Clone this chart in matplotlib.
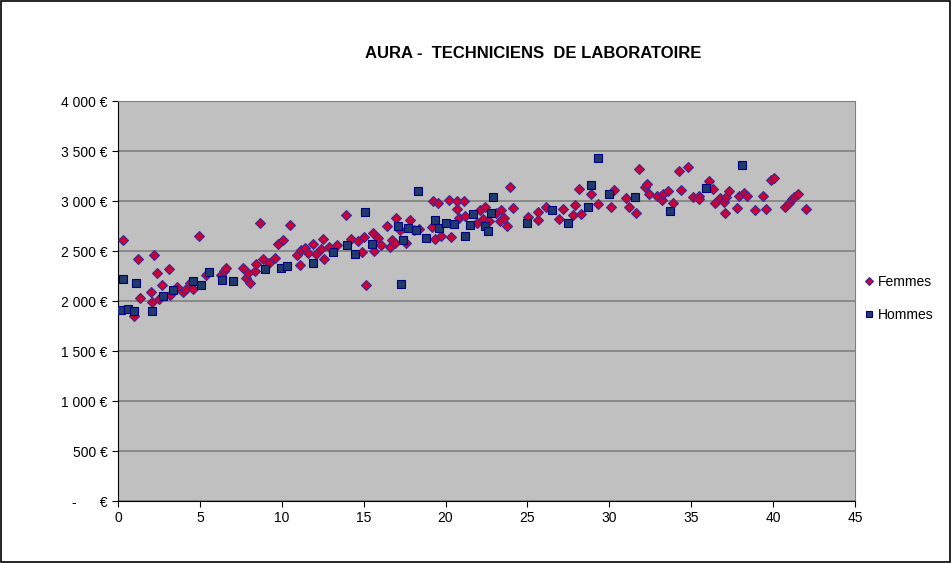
import matplotlib
matplotlib.use("Agg")
import matplotlib.pyplot as plt
from matplotlib.ticker import FuncFormatter, MultipleLocator
from matplotlib.patches import Rectangle

plt.rcParams['font.family'] = ['Liberation Sans', 'DejaVu Sans']

# ancienneté (années) / salaire mensuel (€)
femmes_x = [0.3, 1.0, 1.2, 1.35, 2.0, 2.1, 2.2, 2.35, 2.5, 2.7, 3.1, 3.2, 3.6, 3.95,
            4.15, 4.4, 4.55, 4.95, 5.4, 6.3, 6.5, 6.6, 7.65, 7.8, 7.95, 8.05, 8.35,
            8.45, 8.65, 8.85, 9.2, 9.6, 9.75, 10.1, 10.5, 10.9, 11.1, 11.2, 11.4,
            11.6, 11.9, 12.1, 12.4, 12.5, 12.6, 12.9, 13.35, 13.95, 14.25, 14.65,
            14.9, 15.05, 15.15, 15.6, 15.65, 15.9, 16.05, 16.45, 16.6, 16.7, 16.9,
            17.0, 17.2, 17.6, 17.8, 18.05, 18.4, 19.15, 19.25, 19.35, 19.55, 19.7,
            20.2, 20.35, 20.7, 20.7, 20.85, 21.1, 21.2, 21.9, 22.1, 22.3, 22.4,
            22.65, 23.1, 23.3, 23.4, 23.55, 23.75, 23.95, 24.15, 25.05, 25.65,
            25.65, 26.15, 26.9, 27.2, 27.8, 27.9, 28.15, 28.25, 28.9, 29.3, 30.1,
            30.3, 31.0, 31.2, 31.65, 31.8, 32.2, 32.3, 32.4, 32.9, 33.2, 33.3,
            33.6, 33.9, 34.25, 34.4, 34.8, 35.1, 35.45, 35.5, 36.1, 36.35, 36.45,
            36.75, 37.0, 37.05, 37.15, 37.3, 37.8, 37.95, 38.25, 38.4, 38.9, 39.4,
            39.6, 39.85, 40.05, 40.75, 40.95, 41.15, 41.3, 41.55, 42.0]
femmes_y = [2610, 1850, 2420, 2030, 2090, 1990, 2460, 2280, 2020, 2160, 2320, 2060,
            2140, 2090, 2120, 2180, 2120, 2650, 2260, 2260, 2300, 2330, 2330, 2230,
            2280, 2180, 2300, 2370, 2780, 2420, 2380, 2430, 2570, 2610, 2760, 2460,
            2360, 2510, 2530, 2480, 2570, 2470, 2520, 2620, 2420, 2540, 2560, 2860,
            2620, 2600, 2490, 2640, 2160, 2680, 2500, 2630, 2560, 2750, 2540, 2610,
            2580, 2830, 2710, 2580, 2810, 2710, 2720, 2740, 3000, 2620, 2980, 2650,
            3010, 2640, 3000, 2920, 2830, 3000, 2850, 2780, 2910, 2820, 2940, 2800,
            2880, 2800, 2910, 2830, 2750, 3140, 2930, 2840, 2890, 2810, 2940, 2820,
            2920, 2860, 2960, 3120, 2870, 3070, 2970, 2940, 3110, 3030, 2940, 2880,
            3320, 3140, 3170, 3070, 3050, 3010, 3070, 3100, 2980, 3300, 3110, 3340,
            3040, 3050, 3020, 3200, 3120, 2980, 3030, 2990, 2880, 3040, 3100, 2930,
            3050, 3080, 3050, 2910, 3050, 2920, 3210, 3230, 2940, 2980, 3020, 3040,
            3070, 2920]

hommes_x = [0.15, 0.3, 0.6, 0.95, 1.1, 2.1, 2.75, 3.35, 4.6, 5.05, 5.55, 6.35, 7.0,
            8.95, 9.95, 10.3, 11.9, 13.1, 14.0, 14.5, 15.1, 15.5, 17.1, 17.3, 17.4,
            17.7, 18.2, 18.3, 18.8, 19.35, 19.6, 20.0, 20.5, 21.2, 21.5, 21.7, 22.4,
            22.6, 22.8, 22.9, 25.0, 26.5, 27.5, 28.7, 28.9, 29.3, 30.0, 31.6, 33.7,
            35.9, 38.1]
hommes_y = [1910, 2220, 1925, 1900, 2180, 1900, 2050, 2110, 2200, 2160, 2290, 2210,
            2200, 2320, 2330, 2350, 2380, 2490, 2560, 2470, 2890, 2570, 2750, 2170,
            2610, 2730, 2710, 3100, 2630, 2810, 2730, 2780, 2770, 2650, 2760, 2870,
            2750, 2700, 2880, 3040, 2780, 2910, 2780, 2940, 3160, 3430, 3070, 3040,
            2900, 3130, 3360]


def euros(v, pos):
    if v == 0:
        return "-      €"
    return "{:,.0f} €".format(v).replace(",", " ")


fig = plt.figure(figsize=(9.52, 5.63), dpi=100)
ax = fig.add_axes([0.124, 0.110, 0.774, 0.7106])
ax.set_facecolor('#C0C0C0')

ax.plot(femmes_x, femmes_y, 'D', ms=5, mfc='#CC0033', mec='#3B2A96', mew=0.8,
        label='Femmes', zorder=3)
ax.plot(hommes_x, hommes_y, 's', ms=6.2, mfc='#1F3A6B', mec='#000080', mew=0.8,
        label='Hommes', zorder=4)

ax.set_xlim(0, 45)
ax.set_ylim(0, 4000)
ax.xaxis.set_major_locator(MultipleLocator(5))
ax.yaxis.set_major_locator(MultipleLocator(500))
ax.yaxis.set_major_formatter(FuncFormatter(euros))
ax.grid(axis='y', color='#808080', lw=1.2)
ax.set_axisbelow(True)

for s in ('top', 'right'):
    ax.spines[s].set_color('#808080')
for s in ('left', 'bottom'):
    ax.spines[s].set_color('black')
ax.tick_params(direction='out', length=4, labelsize=10, color='black')

fig.text(0.56, 0.905, "AURA -  TECHNICIENS  DE LABORATOIRE", ha='center',
         va='center', fontsize=12, fontweight='bold')

ax.legend(loc='center left', bbox_to_anchor=(0.902, 0.47),
          bbox_transform=fig.transFigure, frameon=False, fontsize=10,
          handlelength=0.7, handletextpad=0.3, labelspacing=1.4,
          borderaxespad=0, markerscale=0.75)

# cadre du graphique
fig.patches.append(Rectangle((0.001, 0.002), 0.997, 0.996, transform=fig.transFigure,
                             fill=False, ec='black', lw=1.2))

fig.savefig('out.png', dpi=100)
